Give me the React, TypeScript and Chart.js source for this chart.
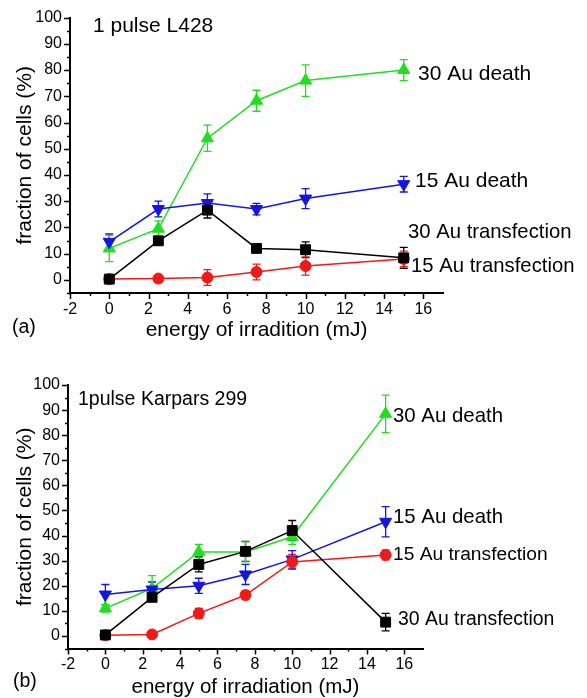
import React, { useEffect, useRef } from 'react';
import { Chart, registerables } from 'chart.js';

Chart.register(...registerables);

const FONT = '"Liberation Sans", Arial, Helvetica, sans-serif';

// ---------- data ----------
const energy = [0, 2.5, 5, 7.5, 10, 15];
const xTickLabels = ['-2', '0', '2', '4', '6', '8', '10', '12', '14', '16'];
const yTickLabels = ['0', '10', '20', '30', '40', '50', '60', '70', '80', '90', '100'];

// Panel (a): 1 pulse L428
const aDeath30 = [12, 19.5, 54, 68.3, 76, 80];
const aDeath30Err = [5, 3, 5, 4, 6, 4];
const aDeath15 = [14.5, 27, 29.3, 27, 31, 36.5];
const aDeath15Err = [3, 3, 3.5, 2.2, 3.8, 3];
const aTrans30 = [0.3, 14.9, 26.6, 12, 11.5, 8.4];
const aTrans30Err = [1, 1, 3, 0.8, 3, 4];
const aTrans15 = [0.3, 0.5, 0.9, 3, 5.3, 8];
const aTrans15Err = [1, 0.8, 3, 3, 3.5, 3];

// Panel (b): 1pulse Karpars 299
const bDeath30 = [11, 19, 33.5, 33.5, 39.5, 88.5];
const bDeath30Err = [1.5, 5, 3, 4, 3, 7.5];
const bDeath15 = [16.5, 18.5, 20, 24.5, 30.5, 45.5];
const bDeath15Err = [4, 3, 3, 4, 3.5, 6];
const bTrans15 = [0.3, 0.6, 9, 16.3, 29.5, 32.3];
const bTrans15Err = [0.8, 0.8, 2, 1.8, 3, 2];
const bTrans30 = [0.4, 15.4, 28.5, 33.7, 42, 5.5];
const bTrans30Err = [0.8, 1, 3, 4, 4, 3.5];

const GREEN = '#22dd22';
const BLUE = '#1515e0';
const RED = '#ee1a1a';
const BLACK = '#000000';

type Label = { text: string; x: number; y: number; size: number; sx?: number };

const errorBarPlugin = {
  id: 'errorBars',
  beforeDatasetsDraw(chart: any) {
    const ctx = chart.ctx;
    const xs = chart.scales.x;
    const ys = chart.scales.y;
    chart.data.datasets.forEach((ds: any) => {
      ctx.save();
      ctx.strokeStyle = ds.borderColor;
      ctx.lineWidth = 1.3;
      ds.data.forEach((p: any, i: number) => {
        const e = ds.errors[i];
        const px = xs.getPixelForValue(p.x);
        const y1 = ys.getPixelForValue(p.y + e);
        const y2 = ys.getPixelForValue(p.y - e);
        ctx.beginPath();
        ctx.moveTo(px, y1);
        ctx.lineTo(px, y2);
        ctx.moveTo(px - 4, y1);
        ctx.lineTo(px + 4, y1);
        ctx.moveTo(px - 4, y2);
        ctx.lineTo(px + 4, y2);
        ctx.stroke();
      });
      ctx.restore();
    });
  },
};

const tickMarkPlugin = {
  id: 'tickMarks',
  afterDraw(chart: any) {
    const ctx = chart.ctx;
    const xs = chart.scales.x;
    const ys = chart.scales.y;
    const area = chart.chartArea;
    ctx.save();
    ctx.strokeStyle = '#000';
    ctx.lineWidth = 1.5;
    ctx.beginPath();
    for (let v = -2; v <= 16; v++) {
      const px = Math.round(xs.getPixelForValue(v)) + 0.5;
      const len = v % 2 === 0 ? 6 : 3;
      ctx.moveTo(px, area.bottom);
      ctx.lineTo(px, area.bottom + len);
    }
    for (let v = -5; v <= 100; v += 5) {
      const py = Math.round(ys.getPixelForValue(v)) + 0.5;
      const len = v % 10 === 0 ? 6 : 3;
      ctx.moveTo(area.left, py);
      ctx.lineTo(area.left - len, py);
    }
    ctx.stroke();
    ctx.restore();
  },
};

const textPlugin = {
  id: 'texts',
  afterDraw(chart: any, _args: any, opts: any) {
    const ctx = chart.ctx;
    (opts.items as Label[]).forEach((t) => {
      ctx.save();
      ctx.font = `${t.size}px ${FONT}`;
      ctx.fillStyle = '#000';
      ctx.textBaseline = 'alphabetic';
      ctx.textAlign = 'left';
      ctx.translate(t.x, t.y);
      ctx.scale(t.sx ?? 1, 1);
      ctx.fillText(t.text, 0, 0);
      ctx.restore();
    });
  },
};

function series(label: string, vals: number[], errs: number[], color: string, style: string, radius: number, rotation = 0) {
  return {
    label,
    data: energy.map((x, i) => ({ x, y: vals[i] })),
    errors: errs,
    borderColor: color,
    backgroundColor: color,
    borderWidth: 1.5,
    pointStyle: style,
    pointRadius: radius,
    pointRotation: rotation,
    pointBorderWidth: 1,
    tension: 0,
    fill: false,
  };
}

type PanelCfg = {
  datasets: any[];
  padTop: number;
  padRight: number;
  yWidth: number;
  xHeight: number;
  xTickPad: number;
  xTitle: string;
  xTitleSize: number;
  xTitlePad: number;
  yTitleSize: number;
  yTitlePad: number;
  labels: Label[];
};

function makeConfig(p: PanelCfg): any {
  return {
    type: 'line',
    data: { datasets: p.datasets },
    options: {
      animation: false,
      responsive: false,
      maintainAspectRatio: false,
      layout: { padding: { top: p.padTop, right: p.padRight, bottom: 0, left: 0 } },
      plugins: {
        legend: { display: false },
        tooltip: { enabled: false },
        texts: { items: p.labels },
      },
      scales: {
        x: {
          type: 'linear',
          min: -2,
          max: 17,
          afterFit: (s: any) => {
            s.height = p.xHeight;
          },
          grid: { display: false, drawTicks: false },
          border: { display: true, color: '#000', width: 2 },
          ticks: {
            stepSize: 1,
            autoSkip: false,
            maxRotation: 0,
            minRotation: 0,
            padding: p.xTickPad,
            color: '#000',
            font: { family: FONT, size: 16 },
            callback: (v: any) => {
              const s = String(v);
              return xTickLabels.includes(s) ? s : '';
            },
          },
          title: {
            display: true,
            text: p.xTitle,
            color: '#000',
            font: { family: FONT, size: p.xTitleSize, lineHeight: 1 },
            padding: { top: 0, bottom: p.xTitlePad },
          },
        },
        y: {
          type: 'linear',
          min: -5,
          max: 100,
          afterFit: (s: any) => {
            s.width = p.yWidth;
          },
          grid: { display: false, drawTicks: false },
          border: { display: true, color: '#000', width: 2 },
          ticks: {
            stepSize: 5,
            autoSkip: false,
            padding: 8,
            color: '#000',
            font: { family: FONT, size: 16 },
            callback: (v: any) => {
              const s = String(v);
              return yTickLabels.includes(s) ? s : '';
            },
          },
          title: {
            display: true,
            text: 'fraction of cells (%)',
            color: '#000',
            font: { family: FONT, size: p.yTitleSize, lineHeight: 1 },
            padding: { top: p.yTitlePad, bottom: 0 },
          },
        },
      },
    },
    plugins: [errorBarPlugin, tickMarkPlugin, textPlugin],
  };
}

const panelA: PanelCfg = {
  datasets: [
    series('30 Au transfection', aTrans30, aTrans30Err, BLACK, 'rect', 7),
    series('15 Au transfection', aTrans15, aTrans15Err, RED, 'circle', 5.5),
    series('15 Au death', aDeath15, aDeath15Err, BLUE, 'triangle', 7, 180),
    series('30 Au death', aDeath30, aDeath30Err, GREEN, 'triangle', 7),
  ],
  padTop: 17,
  padRight: 144,
  yWidth: 70,
  xHeight: 57,
  xTickPad: 7,
  xTitle: 'energy of irradition (mJ)',
  xTitleSize: 21,
  xTitlePad: 9.5,
  yTitleSize: 21,
  yTitlePad: 14.5,
  labels: [
    { text: '1 pulse L428', x: 93, y: 32, size: 21 },
    { text: '30 Au death', x: 418, y: 80, size: 21 },
    { text: '15 Au death', x: 415, y: 187, size: 21 },
    { text: '30 Au transfection', x: 408, y: 238, size: 20.3 },
    { text: '15 Au transfection', x: 411, y: 272, size: 20.3 },
    { text: '(a)', x: 12, y: 333, size: 19.5 },
  ],
};

const panelB: PanelCfg = {
  datasets: [
    series('30 Au transfection', bTrans30, bTrans30Err, BLACK, 'rect', 7),
    series('15 Au transfection', bTrans15, bTrans15Err, RED, 'circle', 5.5),
    series('15 Au death', bDeath15, bDeath15Err, BLUE, 'triangle', 7, 180),
    series('30 Au death', bDeath30, bDeath30Err, GREEN, 'triangle', 7),
  ],
  padTop: 45,
  padRight: 164,
  yWidth: 68,
  xHeight: 49.5,
  xTickPad: 6,
  xTitle: 'energy of irradiation (mJ)',
  xTitleSize: 20.5,
  xTitlePad: 0.5,
  yTitleSize: 21,
  yTitlePad: 14.5,
  labels: [
    { text: '1pulse Karpars 299', x: 78, y: 65, size: 19.5 },
    { text: '30 Au death', x: 393, y: 82, size: 20.4 },
    { text: '15 Au death', x: 393, y: 183, size: 20.4 },
    { text: '15 Au transfection', x: 393, y: 220, size: 19.2 },
    { text: '30 Au transfection', x: 398, y: 285, size: 19.4 },
    { text: '(b)', x: 13, y: 347, size: 19.5 },
  ],
};

function Panel({ cfg, width, height, top }: { cfg: PanelCfg; width: number; height: number; top: number }) {
  const ref = useRef<HTMLCanvasElement | null>(null);
  useEffect(() => {
    if (!ref.current) return;
    const chart = new Chart(ref.current, makeConfig(cfg));
    return () => chart.destroy();
  }, [cfg]);
  return (
    <canvas
      ref={ref}
      width={width}
      height={height}
      style={{ position: 'absolute', left: 0, top, width, height, display: 'block' }}
    />
  );
}

export default function App() {
  return (
    <div
      style={{
        position: 'absolute',
        left: 0,
        top: 0,
        width: 587,
        height: 698,
        overflow: 'hidden',
        background: '#fff',
      }}
    >
      <Panel cfg={panelA} width={587} height={350} top={0} />
      <Panel cfg={panelB} width={587} height={358} top={340} />
    </div>
  );
}
